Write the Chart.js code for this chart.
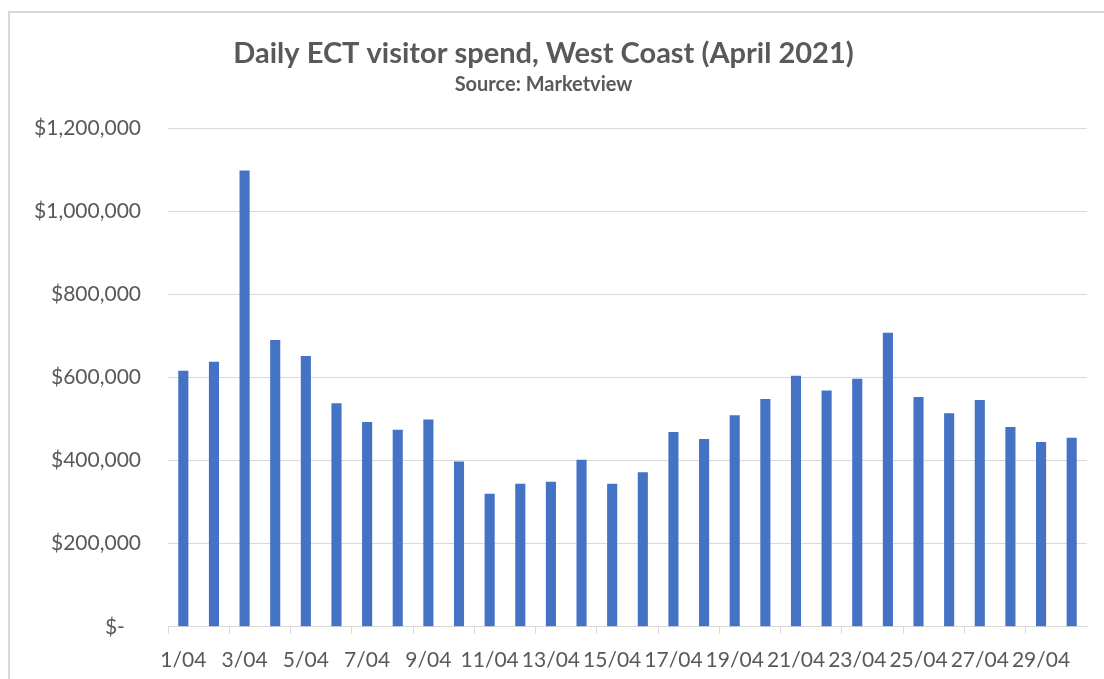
<!DOCTYPE html>
<html>
<head>
<meta charset="utf-8">
<script src="https://cdn.jsdelivr.net/npm/chart.js@4.4.1/dist/chart.umd.min.js"></script>
<style>
  html, body { margin: 0; padding: 0; background: #fff; overflow: hidden; }
  #wrap { position: relative; width: 1104px; height: 679px; }
  #frame { position: absolute; left: 8px; top: 11px; width: 1200px; height: 800px;
           border-left: 2px solid #d9d9d9; border-top: 2px solid #d9d9d9; pointer-events: none; }
  canvas { display: block; }
</style>
</head>
<body>
<div id="wrap">
  <canvas id="barChart" width="1104" height="679"></canvas>
  <div id="frame"></div>
</div>
<script>
// April 2021, one bar per day
var days = ["1/04", "2/04", "3/04", "4/04", "5/04", "6/04", "7/04", "8/04", "9/04", "10/04",
            "11/04", "12/04", "13/04", "14/04", "15/04", "16/04", "17/04", "18/04", "19/04", "20/04",
            "21/04", "22/04", "23/04", "24/04", "25/04", "26/04", "27/04", "28/04", "29/04", "30/04"];

var spend = [616000, 638000, 1098000, 690000, 652000, 538000, 493000, 474000, 499000, 398000,
             320000, 344000, 349000, 402000, 344000, 372000, 469000, 452000, 509000, 548000,
             604000, 569000, 597000, 708000, 553000, 514000, 546000, 481000, 445000, 455000];

var yTicks = [0, 200000, 400000, 600000, 800000, 1000000, 1200000];

var grey = '#595959';
var gridGrey = '#d9d9d9';

var barData = {
    labels: days,
    datasets: [
        {
            label: "Visitor spend",
            backgroundColor: '#4472C4',
            data: spend,
            barPercentage: 0.33,
            categoryPercentage: 1.0
        }
    ]
};

var barOptions = {
    responsive: false,
    animation: false,
    layout: { padding: { top: 10, right: 17, bottom: -8, left: 0 } },
    plugins: {
        legend: { display: false },
        tooltip: { enabled: false },
        title: {
            display: true,
            text: 'Daily ECT visitor spend, West Coast (April 2021)',
            color: grey,
            font: { family: 'Lato', size: 29, weight: 'bold' },
            padding: { top: 26, bottom: 0 }
        },
        subtitle: {
            display: true,
            text: 'Source: Marketview',
            color: grey,
            font: { family: 'Lato', size: 20, weight: 'bold' },
            padding: { top: 2, bottom: 31.4 }
        }
    },
    scales: {
        x: {
            grid: {
                offset: true,
                drawOnChartArea: false,
                drawTicks: true,
                tickLength: 7,
                color: function (ctx) { return ctx.index % 2 === 0 ? gridGrey : 'rgba(0,0,0,0)'; },
                tickColor: function (ctx) { return ctx.index % 2 === 0 ? gridGrey : 'rgba(0,0,0,0)'; }
            },
            border: { display: true, color: gridGrey, width: 1 },
            ticks: {
                autoSkip: false,
                maxRotation: 0,
                color: grey,
                padding: 14,
                font: { family: 'Lato', size: 21 },
                callback: function (val, i) { return i % 2 === 0 ? days[i] : ''; }
            }
        },
        y: {
            min: 0,
            max: 1200000,
            afterFit: function (scale) { scale.width = 168; },
            afterBuildTicks: function (scale) {
                scale.ticks = yTicks.map(function (v) { return { value: v }; });
            },
            grid: { color: gridGrey, drawTicks: false, lineWidth: 1 },
            border: { display: false },
            ticks: {
                color: grey,
                padding: 27,
                font: { family: 'Lato', size: 21 },
                callback: function (v) {
                    return v === 0 ? '$-   ' : '$' + v.toLocaleString('en-US');
                }
            }
        }
    }
};

var ctx = document.getElementById("barChart").getContext("2d");
new Chart(ctx, { type: 'bar', data: barData, options: barOptions });
</script>
</body>
</html>
